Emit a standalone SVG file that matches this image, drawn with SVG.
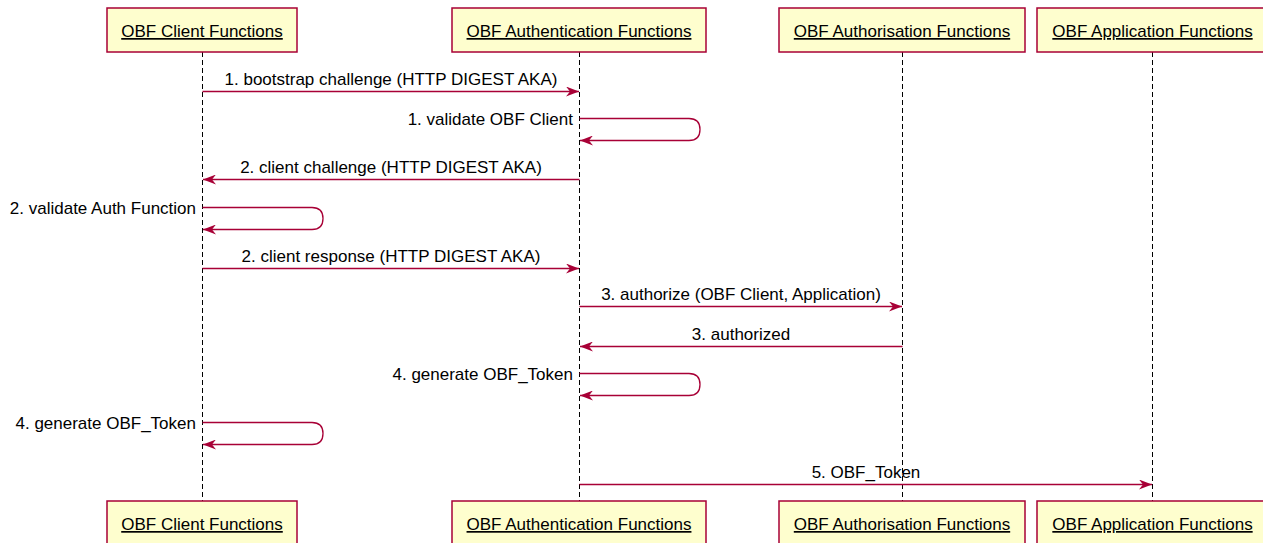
<svg xmlns="http://www.w3.org/2000/svg" width="1263" height="543" viewBox="0 0 1263 543">
  <style>
    .box { fill: #FEFECE; stroke: #A80036; stroke-width: 1.5; }
    .pname { font-family: "Liberation Sans", Arial, sans-serif; font-size: 17px; fill: #000; text-anchor: middle; text-decoration: underline; }
    .life { stroke: #000; stroke-width: 1; stroke-dasharray: 5 3; fill: none; }
    .msg { stroke: #A80036; stroke-width: 1.3; fill: none; marker-end: url(#head); }
    .lbl { font-family: "Liberation Sans", Arial, sans-serif; font-size: 17px; fill: #000; text-anchor: middle; }
    .slbl { font-family: "Liberation Sans", Arial, sans-serif; font-size: 17px; fill: #000; text-anchor: end; }
  </style>
  <defs>
    <marker id="head" viewBox="0 0 13 10" refX="13" refY="5" markerWidth="13" markerHeight="10" markerUnits="userSpaceOnUse" orient="auto">
      <path d="M0,0 L13,5 L0,10 L4,5 Z" fill="#A80036"/>
    </marker>
  </defs>

  <!-- lifelines -->
  <g id="lifelines">
    <line class="life" x1="202.5" y1="52" x2="202.5" y2="501"/>
    <line class="life" x1="579.5" y1="52" x2="579.5" y2="501"/>
    <line class="life" x1="902.5" y1="52" x2="902.5" y2="501"/>
    <line class="life" x1="1152.5" y1="52" x2="1152.5" y2="501"/>
  </g>

  <!-- participants -->
  <g id="client">
    <rect class="box" x="107" y="8" width="190" height="44"/>
    <text class="pname" x="202" y="37">OBF Client Functions</text>
    <rect class="box" x="107" y="501" width="190" height="44"/>
    <text class="pname" x="202" y="530">OBF Client Functions</text>
  </g>
  <g id="authentication">
    <rect class="box" x="452" y="8" width="254" height="44"/>
    <text class="pname" x="579" y="37">OBF Authentication Functions</text>
    <rect class="box" x="452" y="501" width="254" height="44"/>
    <text class="pname" x="579" y="530">OBF Authentication Functions</text>
  </g>
  <g id="authorisation">
    <rect class="box" x="779" y="8" width="246" height="44"/>
    <text class="pname" x="902" y="37">OBF Authorisation Functions</text>
    <rect class="box" x="779" y="501" width="246" height="44"/>
    <text class="pname" x="902" y="530">OBF Authorisation Functions</text>
  </g>
  <g id="application">
    <rect class="box" x="1037" y="8" width="231" height="44"/>
    <text class="pname" x="1152.5" y="37">OBF Application Functions</text>
    <rect class="box" x="1037" y="501" width="231" height="44"/>
    <text class="pname" x="1152.5" y="530">OBF Application Functions</text>
  </g>

  <!-- messages -->
  <g id="connectors">
    <line class="msg" x1="202.5" y1="91.5" x2="579" y2="91.5"/>
    <text class="lbl" x="391" y="85">1. bootstrap challenge (HTTP DIGEST AKA)</text>

    <path class="msg" d="M579.5,118.5 H689 Q700,118.5 700,129.5 Q700,140.5 689,140.5 H580"/>
    <text class="slbl" x="573" y="125">1. validate OBF Client</text>

    <line class="msg" x1="579.5" y1="179.5" x2="203" y2="179.5"/>
    <text class="lbl" x="391" y="173">2. client challenge (HTTP DIGEST AKA)</text>

    <path class="msg" d="M202.5,207.5 H312 Q323,207.5 323,218.5 Q323,229.5 312,229.5 H203"/>
    <text class="slbl" x="196" y="214">2. validate Auth Function</text>

    <line class="msg" x1="202.5" y1="268.5" x2="579" y2="268.5"/>
    <text class="lbl" x="391" y="262">2. client response (HTTP DIGEST AKA)</text>

    <line class="msg" x1="579.5" y1="306.5" x2="902" y2="306.5"/>
    <text class="lbl" x="741" y="300">3. authorize (OBF Client, Application)</text>

    <line class="msg" x1="902.5" y1="346.5" x2="580" y2="346.5"/>
    <text class="lbl" x="741" y="340">3. authorized</text>

    <path class="msg" d="M579.5,373.5 H689 Q700,373.5 700,384.5 Q700,395.5 689,395.5 H580"/>
    <text class="slbl" x="573" y="380">4. generate OBF_Token</text>

    <path class="msg" d="M202.5,422.5 H312 Q323,422.5 323,433.5 Q323,444.5 312,444.5 H203"/>
    <text class="slbl" x="196" y="429">4. generate OBF_Token</text>

    <line class="msg" x1="579.5" y1="484.5" x2="1152" y2="484.5"/>
    <text class="lbl" x="866" y="478">5. OBF_Token</text>
  </g>
</svg>
